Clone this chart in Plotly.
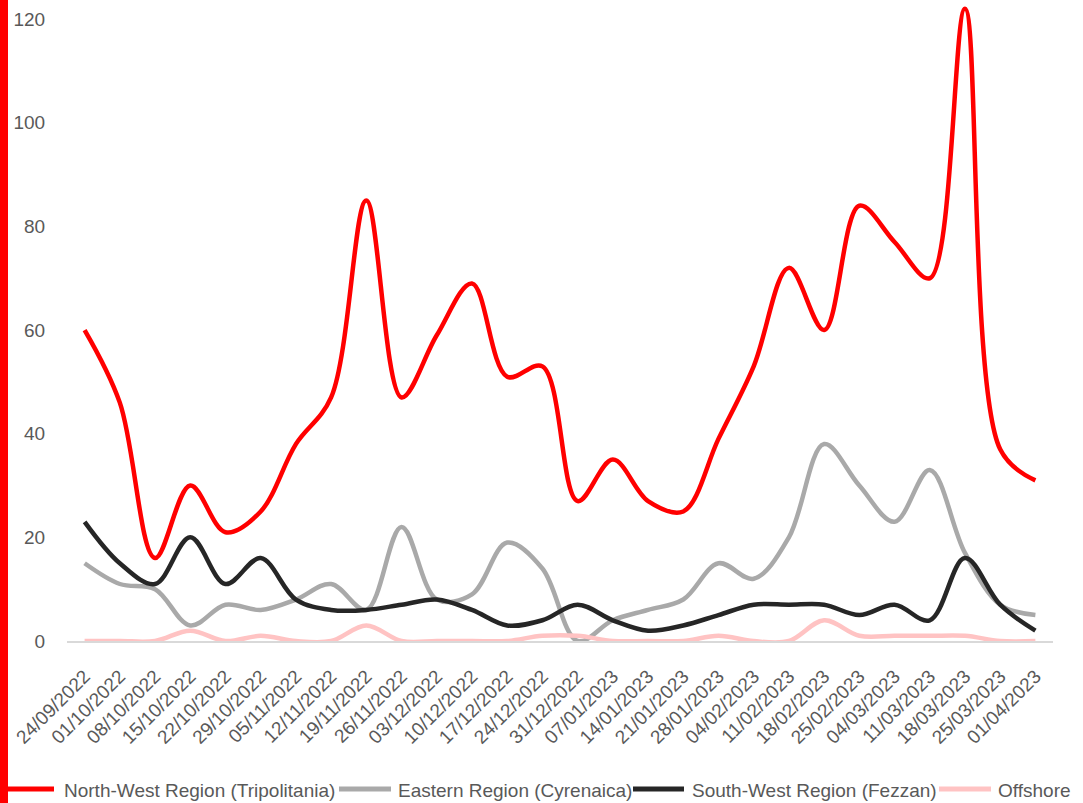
import plotly.graph_objects as go

dates = ["24/09/2022", "01/10/2022", "08/10/2022", "15/10/2022", "22/10/2022", "29/10/2022",
         "05/11/2022", "12/11/2022", "19/11/2022", "26/11/2022", "03/12/2022", "10/12/2022",
         "17/12/2022", "24/12/2022", "31/12/2022", "07/01/2023", "14/01/2023", "21/01/2023",
         "28/01/2023", "04/02/2023", "11/02/2023", "18/02/2023", "25/02/2023", "04/03/2023",
         "11/03/2023", "18/03/2023", "25/03/2023", "01/04/2023"]

north_west = [60, 46, 16, 30, 21, 25, 38, 47, 85, 47, 59, 69, 51, 53, 27, 35, 27, 25, 39, 53,
              72, 60, 84, 77, 70, 122, 37, 31]
eastern = [15, 11, 10, 3, 7, 6, 8, 11, 6, 22, 8, 9, 19, 14, 0, 4, 6, 8, 15, 12,
           20, 38, 30, 23, 33, 17, 7, 5]
south_west = [23, 15, 11, 20, 11, 16, 8, 6, 6, 7, 8, 6, 3, 4, 7, 4, 2, 3, 5, 7,
              7, 7, 5, 7, 4, 16, 7, 2]
offshore = [0, 0, 0, 2, 0, 1, 0, 0, 3, 0, 0, 0, 0, 1, 1, 0, 0, 0, 1, 0,
            0, 4, 1, 1, 1, 1, 0, 0]

series_names = ["North-West Region (Tripolitania)", "Eastern Region (Cyrenaica)",
                "South-West Region (Fezzan)", "Offshore"]
series_values = [north_west, eastern, south_west, offshore]
series_colors = ["#FF0000", "#A9A9A9", "#262626", "#FFC3C3"]

# legend layout (pixels): sample start, sample end, text start
legend_pos = [(0, 56, 62), (337, 393, 396), (631, 686, 690), (937, 993, 996)]
LEGEND_Y = 789

W, H = 1083, 803
ml, mr, mt, mb = 67, 30, 1, 162
pw, ph = W - ml - mr, H - mt - mb
FONT = "Liberation Sans, Arial, sans-serif"
TXT = "#595959"


def px_x(p):
    return (p - ml) / pw


def px_y(p):
    return (H - mb - p) / ph


fig = go.Figure()
for name, vals, color in zip(series_names, series_values, series_colors):
    fig.add_trace(go.Scatter(
        x=list(range(len(dates))), y=vals, name=name, mode="lines",
        line=dict(color=color, width=4.5, shape="spline", smoothing=1.0),
        showlegend=False,
    ))

shapes = [dict(type="rect", xref="paper", yref="paper",
               x0=px_x(0), x1=px_x(8), y0=px_y(H), y1=px_y(0),
               fillcolor="#FF0000", line=dict(width=0), layer="above")]
annotations = []
for name, color, (s0, s1, t0) in zip(series_names, series_colors, legend_pos):
    shapes.append(dict(type="line", xref="paper", yref="paper",
                       x0=px_x(s0 + 2), x1=px_x(s1 - 2),
                       y0=px_y(LEGEND_Y), y1=px_y(LEGEND_Y),
                       line=dict(color=color, width=5)))
    annotations.append(dict(xref="paper", yref="paper", x=px_x(t0), y=px_y(LEGEND_Y + 1),
                            xanchor="left", yanchor="middle", showarrow=False,
                            text=name, font=dict(family=FONT, size=19, color=TXT)))

fig.update_layout(
    width=W, height=H,
    margin=dict(l=ml, r=mr, t=mt, b=mb, pad=0, autoexpand=False),
    paper_bgcolor="white", plot_bgcolor="white",
    font=dict(family=FONT, size=19, color=TXT),
    showlegend=False,
    xaxis=dict(
        range=[-0.5, len(dates) - 0.5], automargin=False,
        tickmode="array", tickvals=list(range(len(dates))), ticktext=dates,
        tickangle=-45, showgrid=False, zeroline=False,
        showline=True, linecolor="#D9D9D9", linewidth=1.5,
        ticks="outside", ticklen=15, tickcolor="rgba(0,0,0,0)",
        tickfont=dict(size=19, color=TXT),
    ),
    yaxis=dict(
        range=[0, 123.5], tickvals=[0, 20, 40, 60, 80, 100, 120], automargin=False,
        showgrid=False, zeroline=False, showline=False,
        ticks="outside", ticklen=17, tickcolor="rgba(0,0,0,0)",
        tickfont=dict(size=19, color=TXT),
    ),
    shapes=shapes,
    annotations=annotations,
)

fig.write_html("out.html")
